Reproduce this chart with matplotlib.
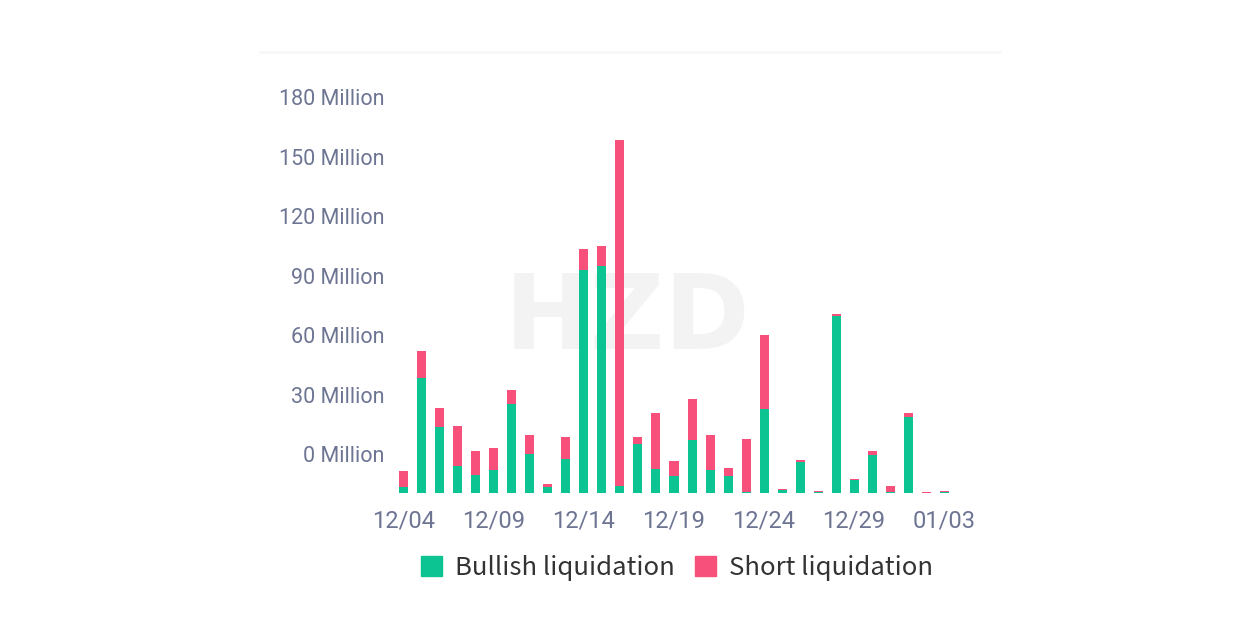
import numpy as np
import matplotlib
matplotlib.use('Agg')
import matplotlib.pyplot as plt
from matplotlib.patches import Patch

# Datas (12/04 a 01/03)
datas = ['12/04', '12/05', '12/06', '12/07', '12/08', '12/09', '12/10', '12/11',
         '12/12', '12/13', '12/14', '12/15', '12/16', '12/17', '12/18', '12/19',
         '12/20', '12/21', '12/22', '12/23', '12/24', '12/25', '12/26', '12/27',
         '12/28', '12/29', '12/30', '12/31', '01/01', '01/02', '01/03']

# Liquidações em milhões
bullish = [3.2, 58.1, 33.4, 13.8, 9.2, 11.6, 44.9, 19.7, 3.2, 17.3,
           112.4, 114.6, 3.5, 25.1, 12.1, 8.7, 26.7, 11.6, 8.6, 0.7,
           42.5, 1.5, 15.8, 0.5, 89.4, 6.6, 19.2, 0.7, 38.5, 0.0, 0.7]
short = [8.0, 13.6, 9.8, 20.0, 12.1, 11.2, 7.2, 9.7, 1.7, 11.1,
         10.6, 10.1, 174.5, 3.3, 28.6, 7.6, 20.8, 18.0, 4.4, 26.5,
         37.3, 0.7, 1.2, 0.5, 0.9, 0.8, 2.3, 3.0, 2.0, 0.7, 0.7]

# Rótulos do eixo y (o gráfico original tem os rótulos deslocados da base)
y_labels = ['0 Million', '30 Million', '60 Million', '90 Million',
            '120 Million', '150 Million', '180 Million']
deslocamento = 19.8

verde = '#0cc492'
vermelho = '#f7507a'
cinza = '#6d7593'

fig = plt.figure(figsize=(12.54, 6.41), dpi=100)
fig.patch.set_facecolor('white')

# Marca d'água (atrás das barras)
fig.text(0.5, 0.50, 'HZD', ha='center', va='center', fontsize=74,
         fontweight='bold', color='#f3f3f4', family='DejaVu Sans', zorder=-1)

# Linha clara no topo
fig.add_artist(plt.Line2D([260/1254, 1000/1254], [1 - 52/641, 1 - 52/641],
                          color='#f8f8f9', lw=2, zorder=-1))

ax = fig.add_axes([393/1254, (641 - 493.3)/641, (955 - 393)/1254, (493.3 - 80)/641])
ax.patch.set_alpha(0)

x = np.arange(len(datas))
ax.bar(x, bullish, width=0.5, color=verde, zorder=3)
ax.bar(x, short, width=0.5, bottom=bullish, color=vermelho, zorder=3)

ax.set_xlim(-0.61, 30.61)
ax.set_ylim(0, 208.4)

ax.set_yticks([deslocamento + 30*i for i in range(len(y_labels))])
ax.set_yticklabels(y_labels)
ax.set_xticks(x[::5])
ax.set_xticklabels(datas[::5])

ax.tick_params(axis='y', length=0, pad=6, labelsize=15.5, labelcolor=cinza)
ax.tick_params(axis='x', length=0, pad=12, labelsize=17, labelcolor=cinza)
for lab in ax.get_yticklabels() + ax.get_xticklabels():
    lab.set_family('Roboto')

for s in ax.spines.values():
    s.set_visible(False)

# Legenda
handles = [Patch(color=verde, label='Bullish liquidation'),
           Patch(color=vermelho, label='Short liquidation')]
fig.legend(handles=handles, loc='center', bbox_to_anchor=(677/1254, 1 - 568/641),
           ncol=2, frameon=False, handlelength=0.8, handleheight=0.8,
           handletextpad=0.5, columnspacing=0.8,
           prop={'family': 'Noto Sans CJK SC', 'size': 18.5}, labelcolor='#333333')

fig.savefig('out.png', dpi=100)
